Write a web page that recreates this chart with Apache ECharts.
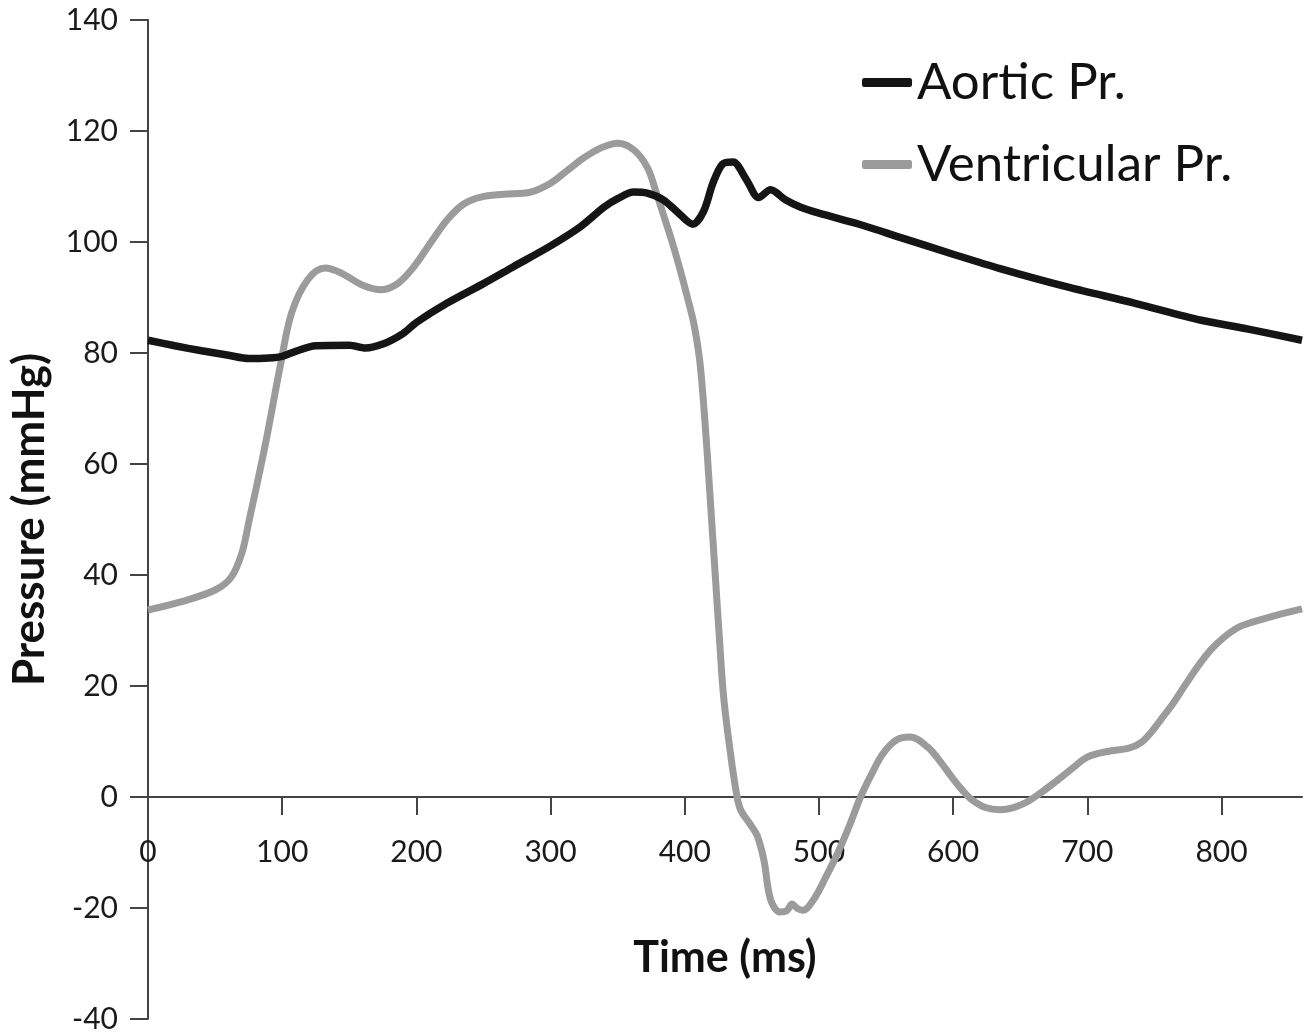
<!DOCTYPE html>
<html>
<head>
<meta charset="utf-8">
<script src="https://cdn.jsdelivr.net/npm/echarts@6/dist/echarts.min.js"></script>
<style>
html,body{margin:0;padding:0;background:#fff;}
#chart{width:1315px;height:1035px;}
</style>
</head>
<body>
<div id="chart"></div>
<script>
// Tick values
const xTicks = [0, 100, 200, 300, 400, 500, 600, 700, 800];
const yTicks = [-40, -20, 0, 20, 40, 60, 80, 100, 120, 140];

// Aortic pressure: time (ms) and pressure (mmHg)
const aorticTime = [0, 20, 40, 60, 75, 90, 100, 110, 125, 150, 162, 175, 190, 200, 223, 250, 272, 300, 322, 340, 350, 362, 372, 384, 395, 406, 414, 421, 428, 436, 446, 455, 464, 475, 486, 500, 530, 561, 600, 635, 685, 735, 785, 820, 860];
const aorticPr = [82.3, 81.3, 80.4, 79.6, 79.0, 79.1, 79.4, 80.3, 81.3, 81.4, 80.9, 81.6, 83.5, 85.5, 89.0, 92.5, 95.5, 99.3, 102.7, 106.3, 107.8, 109.0, 108.8, 107.6, 105.3, 103.2, 105.5, 110.6, 114.0, 114.4, 111.2, 108.0, 109.4, 107.6, 106.3, 105.2, 103.2, 100.8, 97.8, 95.2, 91.9, 89.0, 85.9, 84.3, 82.3];

// Ventricular pressure: time (ms) and pressure (mmHg)
const ventTime = [0, 25, 50, 62, 70, 75, 87, 99, 107, 119, 132, 144, 160, 174, 186, 198, 211, 223, 235, 248, 265, 285, 300, 312, 325, 338, 350, 362, 372, 378, 384, 390, 396, 402, 407, 411, 414, 417, 420, 423, 426, 429, 434, 439, 442, 449, 454, 459, 464, 471, 476, 480, 484, 488, 496, 505, 514, 523, 531, 540, 548, 558, 568, 581, 590, 599, 607, 614, 624, 635, 645, 655, 665, 675, 688, 700, 715, 731, 740, 747, 755, 764, 773, 782, 792, 802, 812, 823, 840, 860];
const ventPr = [33.7, 35.2, 37.3, 39.6, 44.0, 49.4, 63.0, 78.2, 87.2, 93.2, 95.3, 94.4, 92.2, 91.4, 92.5, 95.5, 100.0, 104.0, 106.8, 108.1, 108.6, 109.0, 110.6, 112.8, 115.2, 117.0, 117.8, 116.6, 113.5, 109.5, 105.0, 100.5, 95.5, 90.0, 85.0, 79.0, 71.0, 61.0, 50.0, 39.0, 28.0, 18.0, 8.0, 0.0, -2.5, -5.0, -7.0, -11.4, -18.5, -20.7, -20.5, -19.3, -20.1, -20.4, -18.5, -14.5, -10.1, -5.0, 0.0, 4.5, 7.9, 10.3, 10.8, 9.0, 6.5, 3.6, 1.2, -0.5, -1.9, -2.3, -1.9, -0.9, 0.7, 2.5, 5.0, 7.2, 8.2, 8.8, 9.8, 11.5, 14.0, 16.9, 20.2, 23.4, 26.5, 28.8, 30.5, 31.5, 32.7, 33.9];

const seriesNames = ['Aortic Pr.', 'Ventricular Pr.'];
const xTitle = 'Time (ms)';
const yTitle = 'Pressure (mmHg)';

const FONT = 'Lato, "Open Sans", sans-serif';
const zip = (a, b) => a.map((t, i) => [t, b[i]]);

const chart = echarts.init(document.getElementById('chart'), null, {renderer: 'canvas'});
chart.setOption({
  animation: false,
  backgroundColor: '#ffffff',
  grid: {left: 148, right: 13, top: 20, bottom: 16, outerBoundsMode: 'none', containLabel: false},
  legend: {
    orient: 'vertical',
    left: 857,
    top: 52,
    itemGap: 31,
    itemWidth: 50,
    itemHeight: 9,
    icon: 'roundRect',
    textStyle: {fontFamily: FONT, fontSize: 51, color: '#111'},
    data: seriesNames
  },
  xAxis: {
    type: 'value',
    min: 0,
    max: 860,
    interval: 100,
    name: xTitle,
    nameLocation: 'middle',
    nameGap: -82,
    nameTextStyle: {fontFamily: FONT, fontSize: 43, fontWeight: 'bold', color: '#111'},
    axisLine: {show: true, onZero: true, lineStyle: {color: '#444', width: 2}},
    axisTick: {show: true, length: 18, customValues: xTicks, lineStyle: {color: '#444', width: 2}},
    axisLabel: {show: true, margin: -182, customValues: xTicks, fontFamily: FONT, fontSize: 30, color: '#1a1a1a'},
    splitLine: {show: false}
  },
  yAxis: {
    type: 'value',
    min: -40,
    max: 140,
    interval: 20,
    name: yTitle,
    nameLocation: 'middle',
    nameGap: 96,
    nameTextStyle: {fontFamily: FONT, fontSize: 44, fontWeight: 'bold', color: '#111'},
    axisLine: {show: true, lineStyle: {color: '#444', width: 2}},
    axisTick: {show: true, length: 18, lineStyle: {color: '#444', width: 2}},
    axisLabel: {show: true, margin: 30, customValues: yTicks, fontFamily: FONT, fontSize: 30, color: '#1a1a1a'},
    splitLine: {show: false}
  },
  series: [
    {
      name: seriesNames[0],
      type: 'line',
      data: zip(aorticTime, aorticPr),
      showSymbol: false,
      symbol: 'none',
      smooth: 0.3,
      z: 3,
      color: '#151515',
      lineStyle: {color: '#151515', width: 7.5}
    },
    {
      name: seriesNames[1],
      type: 'line',
      data: zip(ventTime, ventPr),
      showSymbol: false,
      symbol: 'none',
      smooth: 0.35,
      z: 2,
      color: '#9b9b9b',
      lineStyle: {color: '#9b9b9b', width: 7}
    }
  ]
});
</script>
</body>
</html>
